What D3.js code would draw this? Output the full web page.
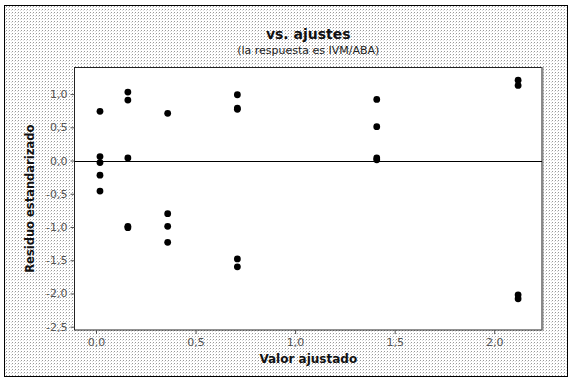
<!DOCTYPE html>
<html>
<head>
<meta charset="utf-8">
<script src="https://cdn.jsdelivr.net/npm/d3@7/dist/d3.min.js"></script>
<style>
  html, body { margin: 0; padding: 0; background: #fff; }
  svg { display: block; }
</style>
</head>
<body>
<script>
// Fitted values and standardized residuals
const fitted = [
  0.02, 0.02, 0.02, 0.02, 0.02,
  0.16, 0.16, 0.16, 0.16, 0.16,
  0.36, 0.36, 0.36, 0.36,
  0.71, 0.71, 0.71, 0.71, 0.71,
  1.41, 1.41, 1.41, 1.41,
  2.12, 2.12, 2.12, 2.12
];
const residuals = [
  0.74, 0.06, -0.03, -0.22, -0.46,
  1.03, 0.91, 0.04, -0.99, -1.01,
  0.71, -0.80, -0.99, -1.23,
  0.99, 0.79, 0.77, -1.48, -1.60,
  0.92, 0.51, 0.04, 0.01,
  1.21, 1.13, -2.02, -2.08
];
const xTicks = [0, 0.5, 1.0, 1.5, 2.0];
const yTicks = [1.0, 0.5, 0.0, -0.5, -1.0, -1.5, -2.0, -2.5];
const titleText = "vs. ajustes";
const subtitleText = "(la respuesta es IVM/ABA)";
const xLabel = "Valor ajustado";
const yLabel = "Residuo estandarizado";

const W = 572, H = 382;
const plot = { left: 74.5, top: 67.5, right: 542, bottom: 330 };
const font = "'DejaVu Sans', Verdana, sans-serif";
const fmt = v => d3.format(".1f")(v).replace("−", "-").replace(".", ",");

const svg = d3.select("body").append("svg").attr("width", W).attr("height", H);

// Stippled backdrop
const defs = svg.append("defs");
const pat = defs.append("pattern").attr("id", "stipple")
  .attr("patternUnits", "userSpaceOnUse").attr("width", 3).attr("height", 3);
pat.append("rect").attr("width", 3).attr("height", 3).attr("fill", "#fff");
pat.append("rect").attr("x", 0).attr("y", 0).attr("width", 1).attr("height", 1).attr("fill", "#999");
pat.append("rect").attr("x", 2).attr("y", 1).attr("width", 1).attr("height", 1).attr("fill", "#dcdcdc");

svg.append("rect").attr("x", 0).attr("y", 0).attr("width", W).attr("height", H).attr("fill", "#fff");
svg.append("rect").attr("x", 4.5).attr("y", 5.5).attr("width", 563).attr("height", 371)
  .attr("fill", "url(#stipple)").attr("stroke", "#000").attr("stroke-width", 1);

const x = d3.scaleLinear().domain([-0.108, 2.24]).range([plot.left, plot.right]);
const y = d3.scaleLinear().domain([-2.55, 1.4]).range([plot.bottom, plot.top]);

// Plot area
svg.append("rect")
  .attr("x", plot.left).attr("y", plot.top)
  .attr("width", plot.right - plot.left).attr("height", plot.bottom - plot.top)
  .attr("fill", "#fff").attr("stroke", "#222").attr("stroke-width", 1);
svg.append("line")
  .attr("x1", plot.right + 0.5).attr("x2", plot.right + 0.5)
  .attr("y1", plot.top - 0.5).attr("y2", plot.bottom)
  .attr("stroke", "#888").attr("stroke-width", 2);

// Axes
const xAxis = d3.axisBottom(x).tickValues(xTicks).tickFormat(fmt).tickSize(4).tickPadding(4);
const yAxis = d3.axisLeft(y).tickValues(yTicks).tickFormat(fmt).tickSize(4).tickPadding(3);

const gx = svg.append("g").attr("transform", `translate(0,${plot.bottom})`).call(xAxis);
const gy = svg.append("g").attr("transform", `translate(${plot.left},0)`).call(yAxis);
[gx, gy].forEach(g => {
  g.select(".domain").remove();
  g.selectAll(".tick line").attr("stroke", "#555");
  g.selectAll(".tick text").attr("fill", "#555").style("font-family", font).style("font-size", "11px");
});

// Zero reference line
svg.append("line")
  .attr("x1", plot.left).attr("x2", plot.right)
  .attr("y1", Math.round(y(0)) + 0.5).attr("y2", Math.round(y(0)) + 0.5)
  .attr("stroke", "#000").attr("stroke-width", 1);

// Points
svg.append("g").selectAll("circle")
  .data(fitted.map((f, i) => [f, residuals[i]]))
  .join("circle")
  .attr("cx", d => x(d[0])).attr("cy", d => y(d[1]))
  .attr("r", 3.4).attr("fill", "#000");

// Titles
const cx = (plot.left + plot.right) / 2;
svg.append("text").attr("x", cx).attr("y", 39).attr("text-anchor", "middle")
  .style("font-family", font).style("font-size", "14px").style("font-weight", "bold")
  .attr("fill", "#111").text(titleText);
svg.append("text").attr("x", cx).attr("y", 54).attr("text-anchor", "middle")
  .style("font-family", font).style("font-size", "11px")
  .attr("fill", "#222").text(subtitleText);

svg.append("text").attr("x", cx).attr("y", 363).attr("text-anchor", "middle")
  .style("font-family", font).style("font-size", "12px").style("font-weight", "bold")
  .attr("fill", "#111").text(xLabel);
svg.append("text")
  .attr("transform", `translate(34,${(plot.top + plot.bottom) / 2}) rotate(-90)`)
  .attr("text-anchor", "middle")
  .style("font-family", font).style("font-size", "11.5px").style("font-weight", "bold")
  .attr("fill", "#111").text(yLabel);
</script>
</body>
</html>
